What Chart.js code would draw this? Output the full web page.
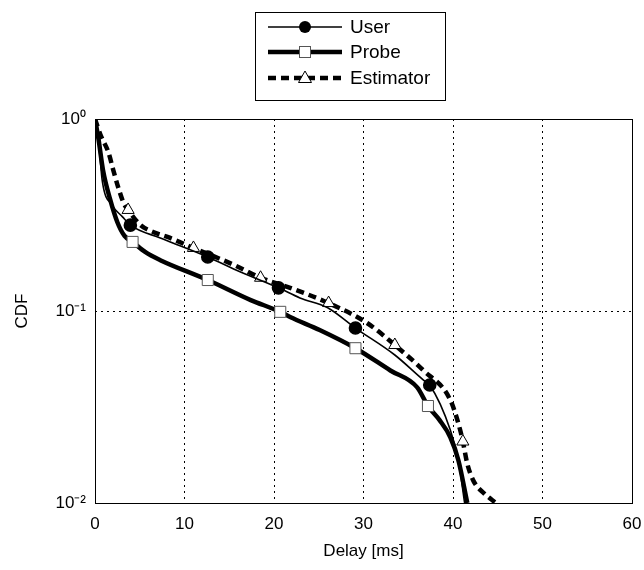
<!DOCTYPE html>
<html>
<head>
<meta charset="utf-8">
<script src="https://cdn.jsdelivr.net/npm/chart.js@4.4.1/dist/chart.umd.min.js"></script>
<style>
  body { margin: 0; background: #fff; }
  canvas { display: block; }
</style>
</head>
<body>
<canvas id="cdf" width="644" height="570"></canvas>
<script>
// values (delay in ms, CDF on log scale)
const userDelay = [0, 0.27, 0.83, 1.9, 3.05, 3.95, 7.3, 12.6, 16.2, 20.5, 22.9, 26.0, 29.1, 33.5, 36.7, 37.4, 39.7, 40.6, 41.3];
const userCdf   = [1, 0.88, 0.47, 0.356, 0.31, 0.28, 0.24, 0.191, 0.16, 0.132, 0.117, 0.104, 0.0815, 0.059, 0.0437, 0.0412, 0.024, 0.0167, 0.01];
const userMarks = [5, 7, 9, 12, 15];

const probeDelay = [0, 0.4, 0.9, 1.7, 2.5, 3.3, 4.2, 5.6, 7.3, 12.6, 17.4, 20.7, 21.8, 25.1, 29.1, 33.0, 36.0, 37.2, 38.5, 39.7, 40.6, 41.6];
const probeCdf   = [1, 0.78, 0.54, 0.38, 0.29, 0.246, 0.229, 0.203, 0.184, 0.145, 0.114, 0.099, 0.093, 0.0796, 0.064, 0.049, 0.040, 0.032, 0.027, 0.022, 0.0167, 0.01];
const probeMarks = [6, 9, 11, 14, 17];

const estDelay = [0, 0.6, 1.5, 2.05, 2.6, 3.2, 3.7, 5.1, 6.5, 8.1, 11.0, 15.5, 18.5, 21.8, 26.1, 30.4, 33.5, 36.7, 39.7, 40.8, 41.1, 41.6, 42.3, 43.5, 44.8];
const estCdf   = [1, 0.83, 0.67, 0.54, 0.44, 0.365, 0.336, 0.28, 0.258, 0.243, 0.213, 0.174, 0.149, 0.132, 0.110, 0.0866, 0.0665, 0.049, 0.0344, 0.024, 0.0209, 0.016, 0.013, 0.0112, 0.01];
const estMarks = [6, 10, 12, 14, 16, 20];

const xTicks = [0, 10, 20, 30, 40, 50, 60];
const yTicks = [0.01, 0.1, 1];
const yTickLabels = { 0.01: '10⁻²', 0.1: '10⁻¹', 1: '10⁰' };

const seriesNames = ['User', 'Probe', 'Estimator'];

const toPoints = (xs, ys) => xs.map((x, i) => ({ x: x, y: ys[i] }));
const radii = (xs, marks, r) => xs.map((_, i) => marks.includes(i) ? r : 0);

// frame box + legend drawn on the canvas
const framePlugin = {
  id: 'frame',
  afterDatasetsDraw(chart) {
    const { ctx, chartArea: a } = chart;
    ctx.save();
    ctx.strokeStyle = '#000';
    ctx.lineWidth = 1;
    ctx.strokeRect(a.left + 0.5, a.top + 0.5, a.right - a.left, a.bottom - a.top);

    // legend box
    const bx = 255, by = 12, bw = 190, bh = 88;
    ctx.fillStyle = '#fff';
    ctx.fillRect(bx, by, bw, bh);
    ctx.strokeRect(bx + 0.5, by + 0.5, bw, bh);
    const rows = [27, 52, 78];
    const x1 = 268, x2 = 342, mx = 305;
    ctx.font = '19px "Liberation Sans", Arial, sans-serif';
    ctx.textBaseline = 'middle';
    rows.forEach((y, i) => {
      ctx.strokeStyle = '#000';
      ctx.setLineDash(i === 2 ? [8, 5] : []);
      ctx.lineWidth = i === 0 ? 1.5 : 4.5;
      ctx.beginPath();
      ctx.moveTo(x1, y);
      ctx.lineTo(x2, y);
      ctx.stroke();
      ctx.setLineDash([]);
      if (i === 0) {
        ctx.fillStyle = '#000';
        ctx.beginPath();
        ctx.arc(mx, y, 6, 0, Math.PI * 2);
        ctx.fill();
      } else if (i === 1) {
        ctx.fillStyle = '#fff';
        ctx.fillRect(mx - 5.5, y - 5.5, 11, 11);
        ctx.strokeStyle = '#555';
        ctx.lineWidth = 1;
        ctx.strokeRect(mx - 5.5, y - 5.5, 11, 11);
      } else {
        ctx.fillStyle = '#fff';
        ctx.strokeStyle = '#000';
        ctx.lineWidth = 1;
        ctx.beginPath();
        ctx.moveTo(mx, y - 7);
        ctx.lineTo(mx + 6.5, y + 4.5);
        ctx.lineTo(mx - 6.5, y + 4.5);
        ctx.closePath();
        ctx.fill();
        ctx.stroke();
      }
      ctx.fillStyle = '#000';
      ctx.fillText(seriesNames[i], 350, y + 1);
    });
    ctx.restore();
  }
};

const gridDash = [2, 4];

new Chart(document.getElementById('cdf'), {
  type: 'line',
  data: {
    datasets: [
      {
        label: seriesNames[1],
        data: toPoints(probeDelay, probeCdf),
        borderColor: '#000',
        borderWidth: 4.5,
        pointStyle: 'rect',
        pointRadius: radii(probeDelay, probeMarks, 7.8),
        pointBackgroundColor: '#fff',
        pointBorderColor: '#555',
        pointBorderWidth: 1,
        cubicInterpolationMode: 'monotone'
      },
      {
        label: seriesNames[0],
        data: toPoints(userDelay, userCdf),
        borderColor: '#000',
        borderWidth: 1.6,
        pointStyle: 'circle',
        pointRadius: radii(userDelay, userMarks, 6),
        pointBackgroundColor: '#000',
        pointBorderColor: '#000',
        cubicInterpolationMode: 'monotone'
      },
      {
        label: seriesNames[2],
        data: toPoints(estDelay, estCdf),
        borderColor: '#000',
        borderWidth: 4.5,
        borderDash: [8, 5],
        pointStyle: 'triangle',
        pointRadius: radii(estDelay, estMarks, 7),
        pointBackgroundColor: '#fff',
        pointBorderColor: '#000',
        pointBorderWidth: 1,
        cubicInterpolationMode: 'monotone'
      }
    ]
  },
  options: {
    responsive: false,
    animation: false,
    layout: { padding: { top: 119, right: 12, left: 0, bottom: 0 } },
    plugins: {
      legend: { display: false },
      tooltip: { enabled: false }
    },
    scales: {
      x: {
        type: 'linear',
        min: 0,
        max: 60,
        afterBuildTicks: s => { s.ticks = xTicks.map(v => ({ value: v })); },
        afterFit: s => { s.height = 67; s.paddingLeft = 0; s.paddingRight = 0; },
        grid: { color: '#000', lineWidth: 1, drawTicks: false },
        border: { display: false, dash: gridDash },
        ticks: {
          color: '#000',
          padding: 11,
          font: { family: '"Liberation Sans", Arial, sans-serif', size: 17 }
        },
        title: {
          display: true,
          text: 'Delay [ms]',
          color: '#000',
          padding: { top: 0, bottom: 8 },
          font: { family: '"Liberation Sans", Arial, sans-serif', size: 17 }
        }
      },
      y: {
        type: 'logarithmic',
        min: 0.01,
        max: 1,
        afterBuildTicks: s => { s.ticks = yTicks.map(v => ({ value: v })); },
        afterFit: s => { s.width = 95; s.paddingTop = 0; s.paddingBottom = 0; },
        grid: { color: '#000', lineWidth: 1, drawTicks: false },
        border: { display: false, dash: gridDash },
        ticks: {
          color: '#000',
          padding: 9,
          font: { family: '"Liberation Sans", Arial, sans-serif', size: 17 },
          callback: v => yTickLabels[v] || ''
        },
        title: {
          display: true,
          text: 'CDF',
          color: '#000',
          padding: { top: 12, bottom: 0 },
          font: { family: '"Liberation Sans", Arial, sans-serif', size: 17 }
        }
      }
    }
  },
  plugins: [framePlugin]
});
</script>
</body>
</html>
